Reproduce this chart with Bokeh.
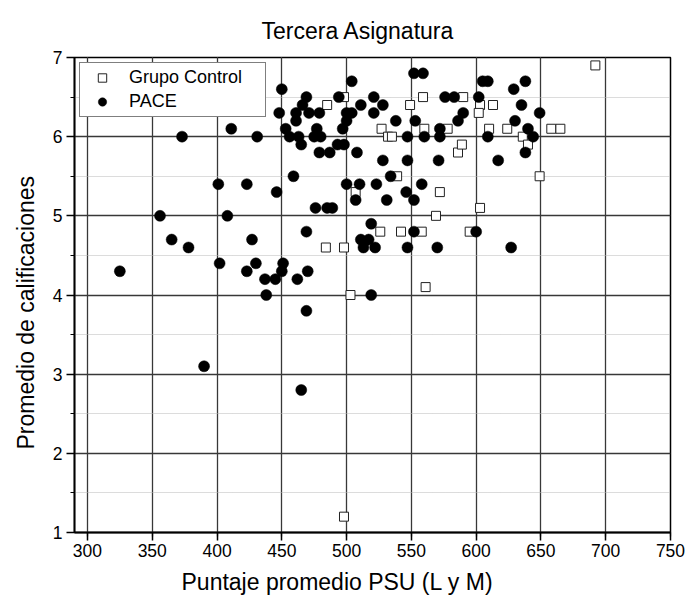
from bokeh.plotting import figure
from bokeh.models import FixedTicker, Range1d, Title
from bokeh.embed import file_html
from bokeh.resources import INLINE

# Grupo Control (open squares)
control_x = [485, 498, 549, 559, 527, 532, 535, 560, 578, 586, 589, 590, 603, 613, 602,
             610, 624, 636, 640, 658, 665, 649, 692, 539, 507, 572, 569, 603, 526, 542,
             558, 595, 561, 484, 498, 503, 498]
control_y = [6.4, 6.5, 6.4, 6.5, 6.1, 6.0, 6.0, 6.1, 6.1, 5.8, 5.9, 6.5, 6.4, 6.4, 6.3,
             6.1, 6.1, 6.0, 5.9, 6.1, 6.1, 5.5, 6.9, 5.5, 5.3, 5.3, 5.0, 5.1, 4.8, 4.8,
             4.8, 4.8, 4.1, 4.6, 4.6, 4.0, 1.2]

# PACE (filled circles)
pace_x = [325, 356, 365, 373, 378, 390, 401, 402, 408, 411, 423, 423, 427, 430, 431,
          437, 438, 445, 446, 450, 451, 462, 470, 469, 459, 465, 469,
          450, 448, 453, 456, 461, 461, 463, 465, 466, 469, 471, 475, 477, 479, 480,
          479, 487, 493, 494, 497, 498, 500, 500, 504, 504, 508, 511, 521, 521, 528,
          538, 553, 552, 559, 576, 583, 572, 586, 547, 560, 572, 528, 547, 571, 534,
          602, 605, 609, 638, 629, 635, 590, 649, 630, 640, 644, 609, 638, 617,
          476, 485, 489, 500, 510, 523, 558, 507, 531, 552, 546, 519, 511, 517, 513,
          522, 552, 547, 570, 627, 600, 519]
pace_y = [4.3, 5.0, 4.7, 6.0, 4.6, 3.1, 5.4, 4.4, 5.0, 6.1, 5.4, 4.3, 4.7, 4.4, 6.0,
          4.2, 4.0, 4.2, 5.3, 4.3, 4.4, 4.2, 4.3, 4.8, 5.5, 2.8, 3.8,
          6.6, 6.3, 6.1, 6.0, 6.2, 6.3, 6.0, 5.9, 6.4, 6.5, 6.3, 6.0, 6.1, 6.3, 6.0,
          5.8, 5.8, 5.9, 6.5, 6.1, 5.9, 6.2, 6.3, 6.3, 6.7, 5.8, 6.4, 6.5, 6.3, 6.4,
          6.2, 6.2, 6.8, 6.8, 6.5, 6.5, 6.1, 6.2, 6.0, 6.0, 6.0, 5.7, 5.7, 5.7, 5.5,
          6.5, 6.7, 6.7, 6.7, 6.6, 6.4, 6.3, 6.3, 6.2, 6.1, 6.0, 6.0, 5.8, 5.7,
          5.1, 5.1, 5.1, 5.4, 5.4, 5.4, 5.4, 5.2, 5.2, 5.2, 5.3, 4.9, 4.7, 4.7, 4.6,
          4.6, 4.8, 4.6, 4.6, 4.6, 4.8, 4.0]

x_ticks = [300, 350, 400, 450, 500, 550, 600, 650, 700, 750]
x_minor = [v + 25 for v in range(275, 750, 50)]
y_ticks = [1, 2, 3, 4, 5, 6, 7]
y_minor = [1.5, 2.5, 3.5, 4.5, 5.5, 6.5]

FONT = "Liberation Sans"

p = figure(width=686, height=605,
           min_border_left=74, min_border_top=57, min_border_right=16, min_border_bottom=73,
           x_range=Range1d(290, 750), y_range=Range1d(1, 7),
           output_backend="svg", toolbar_location=None,
           title="Tercera Asignatura", background_fill_color="white")

p.title.text_font = FONT
p.title.text_font_size = "23px"
p.title.text_font_style = "normal"
p.title.text_color = "black"
p.title.align = "left"
p.title.offset = 187
p.title.standoff = 28

p.outline_line_color = "black"
p.outline_line_width = 1.5
p.outline_line_alpha = 1

for ax in (p.xaxis[0], p.yaxis[0]):
    ax.axis_line_color = "black"
    ax.axis_line_width = 1.8
    ax.major_tick_line_color = "black"
    ax.minor_tick_line_color = "black"
    ax.major_tick_line_width = 1.5
    ax.minor_tick_line_width = 1.2
    ax.major_tick_out = 8
    ax.major_tick_in = 0
    ax.minor_tick_out = 4
    ax.minor_tick_in = 0
    ax.major_label_text_font = FONT
    ax.major_label_text_font_size = "17.5px"
    ax.major_label_text_color = "black"

p.xaxis.ticker = FixedTicker(ticks=x_ticks, minor_ticks=x_minor)
p.yaxis.ticker = FixedTicker(ticks=y_ticks, minor_ticks=y_minor)
p.xaxis.major_label_standoff = 3
p.yaxis.major_label_standoff = 4

# axis titles as positioned titles
xlab = Title(text="Puntaje promedio PSU (L y M)", align="left", offset=107,
             standoff=15, text_font=FONT, text_font_size="23px",
             text_font_style="normal", text_color="black")
p.add_layout(xlab, "below")
ylab = Title(text="Promedio de calificaciones", align="left", offset=83,
             standoff=21, text_font=FONT, text_font_size="23px",
             text_font_style="normal", text_color="black")
p.add_layout(ylab, "left")

for g in (p.xgrid[0], p.ygrid[0]):
    g.grid_line_color = "#383838"
    g.grid_line_width = 1.3
    g.minor_grid_line_color = "#b8b8b8"
    g.minor_grid_line_width = 1
    g.minor_grid_line_dash = "1 1"

p.scatter(control_x, control_y, marker="square", size=9, fill_color="white",
          line_color="#222222", line_width=1, legend_label="Grupo Control")
p.scatter(pace_x, pace_y, marker="circle", size=11, fill_color="black",
          line_color="black", line_width=0.5, legend_label="PACE")

lg = p.legend[0]
lg.location = "top_left"
lg.margin = 5
lg.padding = 4
lg.spacing = 3
lg.glyph_width = 36
lg.glyph_height = 21
lg.label_height = 21
lg.label_standoff = 9
lg.label_width = 132
lg.label_text_font = FONT
lg.label_text_font_size = "18px"
lg.label_text_color = "black"
lg.border_line_color = "black"
lg.border_line_width = 1
lg.background_fill_alpha = 1

open("out.html", "w").write(file_html(p, INLINE))
